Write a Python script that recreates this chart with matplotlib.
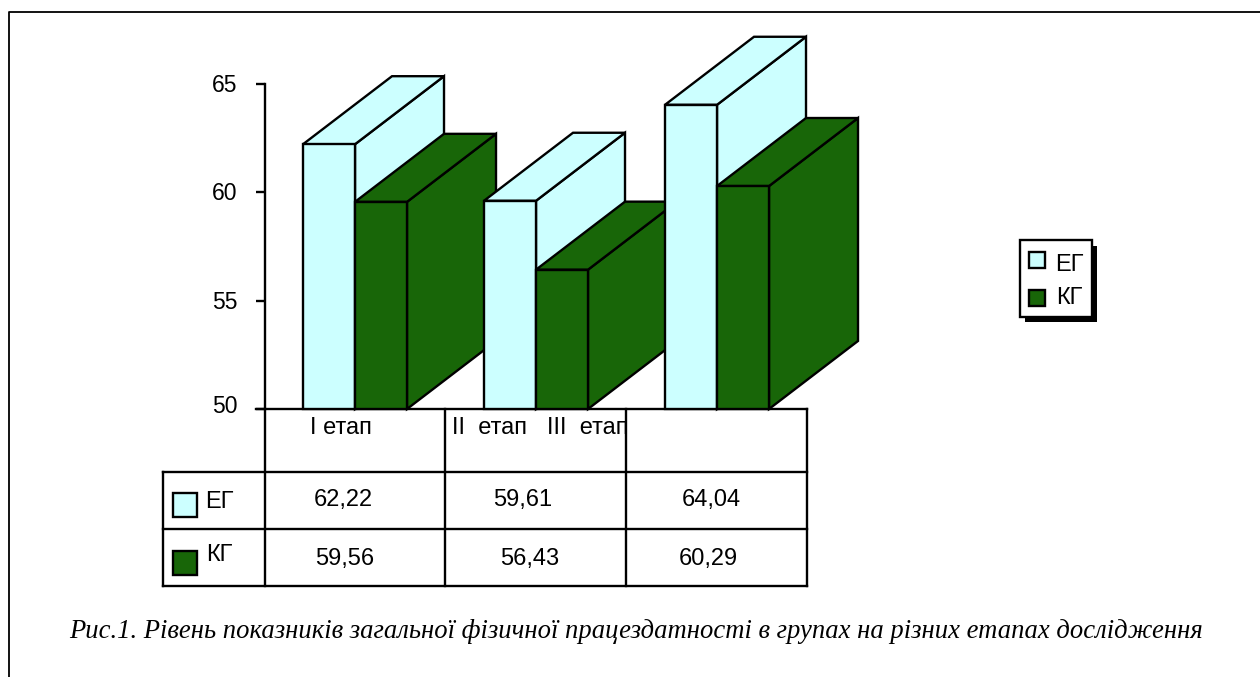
import matplotlib
matplotlib.use('Agg')
import matplotlib.pyplot as plt
from matplotlib.patches import Polygon, Rectangle
from matplotlib.transforms import ScaledTranslation

plt.rcParams['font.family'] = ['Liberation Sans', 'DejaVu Sans']

# значення показників по етапах
stages = ['I етап', 'II  етап', 'III  етап']
eg_values = [62.22, 59.61, 64.04]
kg_values = [59.56, 56.43, 60.29]
eg_labels = ['62,22', '59,61', '64,04']
kg_labels = ['59,56', '56,43', '60,29']
y_ticks = [50, 55, 60, 65]
caption = 'Рис.1. Рівень показників загальної фізичної працездатності в групах на різних етапах дослідження'

W, H = 1260, 677
LIGHT = '#ccffff'
GREEN = '#186608'
LW = 1.7

fig = plt.figure(figsize=(W / 100, H / 100), dpi=100)

# шар у пікселях для рамки, таблиці, легенди і підпису
page = fig.add_axes([0, 0, 1, 1])
page.set_xlim(0, W)
page.set_ylim(H, 0)
page.axis('off')

# область графіка: по x номер групи, по y значення
ax = fig.add_axes([265 / W, 1 - 409 / H, (808 - 265) / W, (409 - 84) / H])
ax.set_xlim(0, 3)
ax.set_ylim(50, 65)
ax.patch.set_visible(False)
for side in ['top', 'right', 'bottom']:
    ax.spines[side].set_visible(False)
ax.spines['left'].set_linewidth(LW)
ax.set_xticks([])
ax.set_yticks(y_ticks)
ax.tick_params(axis='y', length=6.5, width=LW, labelsize=16.5, pad=13.5)

# підписи осі: 50 помітно вище за поділку, решта на 1 px
labels = ax.get_yticklabels()
for lab, shift in zip(labels, [5, 1, 1, 1]):
    lab.set_transform(lab.get_transform() + ScaledTranslation(0, shift / 100, fig.dpi_scale_trans))

bar_w = 0.2873
start = 0.21
dx, dy = 0.4917, 3.14


def box(x, value, color):
    # псевдо-3D стовпчик: бічна грань, верх, передня грань
    right = x + bar_w
    faces = [
        [(right, 50), (right + dx, 50 + dy), (right + dx, value + dy), (right, value)],
        [(x, value), (x + dx, value + dy), (right + dx, value + dy), (right, value)],
        [(x, 50), (right, 50), (right, value), (x, value)],
    ]
    for pts in faces:
        ax.add_patch(Polygon(pts, closed=True, facecolor=color, edgecolor='black',
                             linewidth=LW, clip_on=False, joinstyle='miter'))


for i in range(len(stages)):
    x = i + start
    box(x, eg_values[i], LIGHT)
    box(x + bar_w, kg_values[i], GREEN)

# рамка сторінки
page.plot([9, 9, 1260], [H, 12, 12], color='black', lw=1.3)

# таблиця даних
cols = [265, 445, 626, 807]
rows = [409, 472, 529, 586]
for cx in cols:
    page.plot([cx, cx], [rows[0], rows[-1]], color='black', lw=LW, solid_capstyle='projecting')
page.plot([256, cols[-1]], [rows[0], rows[0]], color='black', lw=LW)
for ry in rows[1:]:
    page.plot([163, cols[-1]], [ry, ry], color='black', lw=LW, solid_capstyle='projecting')
page.plot([163, 163], [rows[1], rows[-1]], color='black', lw=LW, solid_capstyle='projecting')

font = 17
page.text(341, 428, stages[0], fontsize=font, ha='center', va='center')
page.text(489, 428, stages[1], fontsize=font, ha='center', va='center')
page.text(588, 428, stages[2], fontsize=font, ha='center', va='center')

eg_x = [343, 523, 711]
kg_x = [345, 530, 708]
for i in range(3):
    page.text(eg_x[i], 500, eg_labels[i], fontsize=font, ha='center', va='center')
    page.text(kg_x[i], 559, kg_labels[i], fontsize=font, ha='center', va='center')

page.add_patch(Rectangle((173, 493), 24, 24, facecolor=LIGHT, edgecolor='black', lw=LW))
page.add_patch(Rectangle((173, 551), 24, 24, facecolor=GREEN, edgecolor='black', lw=LW))
page.text(219, 502, 'ЕГ', fontsize=font, ha='center', va='center')
page.text(219, 555, 'КГ', fontsize=font, ha='center', va='center')

# легенда з тінню
page.add_patch(Rectangle((1025, 246), 72, 76, facecolor='black', edgecolor='black', lw=0))
page.add_patch(Rectangle((1020, 240), 72, 77, facecolor='white', edgecolor='black', lw=LW))
page.add_patch(Rectangle((1029, 252), 16, 16, facecolor=LIGHT, edgecolor='black', lw=LW))
page.add_patch(Rectangle((1029, 290), 16, 16, facecolor=GREEN, edgecolor='black', lw=LW))
page.text(1069, 265, 'ЕГ', fontsize=font, ha='center', va='center')
page.text(1069, 298, 'КГ', fontsize=font, ha='center', va='center')

page.text(636, 632, caption, family=['Liberation Serif', 'DejaVu Serif'], style='italic',
          fontsize=19.15, ha='center', va='center')

fig.savefig('out.png', dpi=100)
